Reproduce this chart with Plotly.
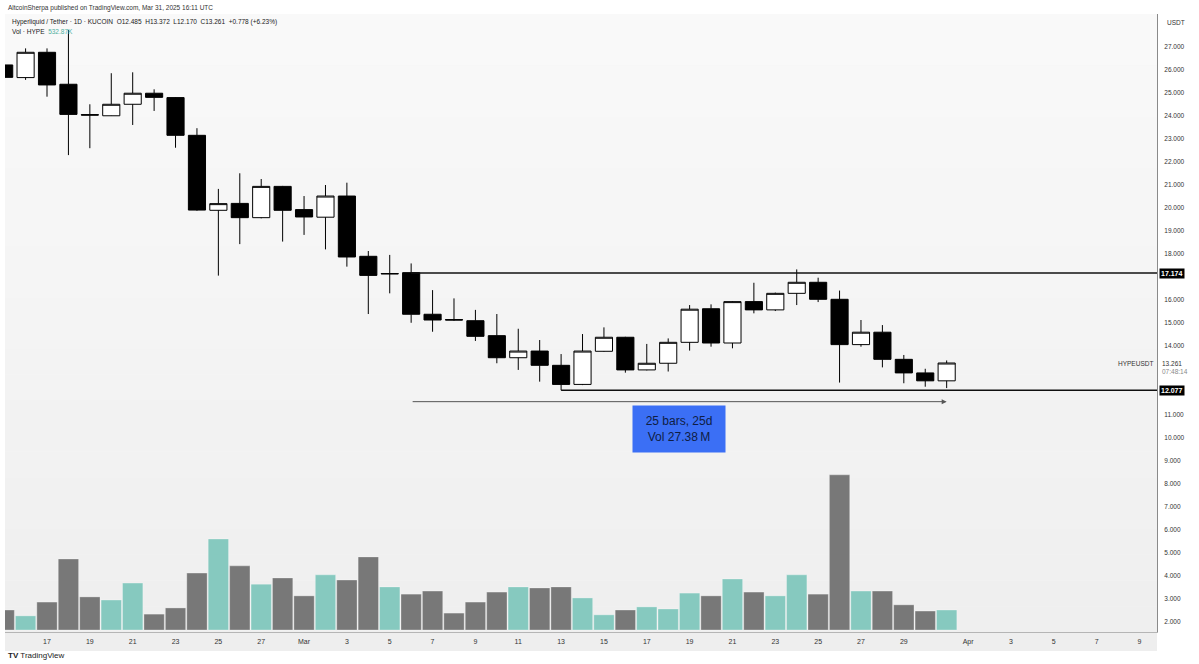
import plotly.graph_objects as go
import pandas as pd

# ---------------- data ----------------
dates = pd.date_range("2025-02-15", "2025-03-31", freq="D").strftime("%Y-%m-%d").tolist()

opens = [26.22, 25.67, 26.77, 25.38, 24.06, 24.01, 24.51, 24.99, 24.80, 23.16,
         19.90, 20.20, 19.58, 20.94, 19.93, 19.60, 20.52, 17.90, 17.13, 17.19,
         15.38, 15.15, 15.10, 14.45, 13.49, 13.78, 13.16, 12.33, 13.77, 14.38,
         12.96, 13.25, 14.16, 15.62, 14.13, 15.93, 15.57, 16.29, 16.77, 16.03,
         14.06, 14.60, 13.42, 12.83, 12.485]
highs = [26.30, 26.94, 26.94, 27.74, 24.51, 25.86, 25.90, 25.16, 24.82, 23.47,
         20.83, 21.51, 21.26, 20.96, 20.52, 21.00, 21.10, 18.13, 17.96, 17.59,
         16.43, 16.07, 15.57, 15.39, 14.75, 14.26, 13.65, 14.52, 14.81, 14.40,
         14.09, 14.33, 15.78, 15.81, 15.95, 16.75, 16.32, 17.33, 16.97, 16.41,
         15.13, 14.91, 13.61, 13.01, 13.372]
lows = [25.60, 25.57, 24.84, 22.30, 22.60, 24.00, 23.61, 24.22, 22.62, 19.88,
        17.06, 18.43, 19.55, 18.54, 18.83, 18.20, 17.45, 15.39, 16.29, 15.01,
        14.62, 15.10, 14.22, 13.25, 12.96, 12.45, 12.077, 12.30, 13.75, 12.84,
        12.94, 12.89, 13.80, 13.97, 13.90, 15.42, 15.52, 15.78, 15.91, 12.41,
        13.97, 13.07, 12.38, 12.23, 12.170]
closes = [25.68, 26.77, 25.35, 24.07, 24.04, 24.51, 24.99, 24.81, 23.16, 19.91,
          20.19, 19.58, 20.94, 19.90, 19.61, 20.52, 17.87, 17.07, 17.15, 15.38,
          15.13, 15.13, 14.42, 13.49, 13.78, 13.16, 12.33, 13.78, 14.38, 12.96,
          13.25, 14.16, 15.60, 14.13, 15.93, 15.57, 16.29, 16.77, 16.03, 14.06,
          14.60, 13.42, 12.83, 12.485, 13.261]
volumes_m = [0.58, 0.41, 0.81, 2.06, 0.96, 0.87, 1.36, 0.46, 0.64, 1.65,
             2.64, 1.86, 1.33, 1.51, 0.99, 1.60, 1.45, 2.12, 1.25, 1.04,
             1.13, 0.49, 0.81, 1.10, 1.25, 1.22, 1.25, 0.93, 0.44, 0.58,
             0.67, 0.61, 1.07, 0.99, 1.48, 1.10, 0.99, 1.60, 1.04, 4.50,
             1.13, 1.13, 0.73, 0.55, 0.58]

tick_dates = ["2025-02-17", "2025-02-19", "2025-02-21", "2025-02-23", "2025-02-25",
              "2025-02-27", "2025-03-01", "2025-03-03", "2025-03-05", "2025-03-07",
              "2025-03-09", "2025-03-11", "2025-03-13", "2025-03-15", "2025-03-17",
              "2025-03-19", "2025-03-21", "2025-03-23", "2025-03-25", "2025-03-27",
              "2025-03-29", "2025-04-01", "2025-04-03", "2025-04-05", "2025-04-07",
              "2025-04-09"]
tick_text = ["17", "19", "21", "23", "25", "27", "Mar", "3", "5", "7", "9", "11",
             "13", "15", "17", "19", "21", "23", "25", "27", "29", "Apr", "3", "5",
             "7", "9"]
# ticks hidden behind the price label boxes (12, 13, 17) are left out
price_ticks = [2, 3, 4, 5, 6, 7, 8, 9, 10, 11, 14, 15, 16, 18, 19, 20, 21, 22,
               23, 24, 25, 26, 27]

resistance = 17.174
resistance_start = "2025-03-06"
support = 12.077
support_start = "2025-03-13"
measure_start = "2025-03-06"
measure_end = "2025-03-31"
measure_level = 11.58
last_price = 13.261

# ---------------- layout helpers ----------------
W, H = 1199, 664
ML, MR, MT, MB = 5, 42, 14, 32
PW, PH = W - ML - MR, H - MT - MB
X_RANGE = ["2025-02-15 00:56", "2025-04-09 19:40"]
Y_RANGE = [1.565, 28.435]
V_RANGE = [-0.058, 17.864]


def px(x):
    return (x - ML) / PW


def py(y):
    return (H - MB - y) / PH


FONT = "Liberation Sans"
TEAL = "#86c9bf"
GRAY = "#787878"

vol_colors = [TEAL if c >= o else GRAY for o, c in zip(opens, closes)]

fig = go.Figure()

fig.add_trace(go.Bar(
    x=dates, y=volumes_m, yaxis="y2",
    marker=dict(color=vol_colors, line=dict(width=0.6, color="rgba(255,255,255,0.5)")),
    hoverinfo="skip", showlegend=False,
))

fig.add_trace(go.Candlestick(
    x=dates, open=opens, high=highs, low=lows, close=closes,
    increasing=dict(fillcolor="#ffffff", line=dict(color="#000000", width=1)),
    decreasing=dict(fillcolor="#000000", line=dict(color="#000000", width=1)),
    whiskerwidth=0, showlegend=False, hoverinfo="skip",
))

# horizontal levels
fig.add_trace(go.Scatter(x=[resistance_start, X_RANGE[1]], y=[resistance, resistance],
                         mode="lines", line=dict(color="#111111", width=1.6),
                         hoverinfo="skip", showlegend=False, cliponaxis=False))
fig.add_trace(go.Scatter(x=[support_start, X_RANGE[1]], y=[support, support],
                         mode="lines", line=dict(color="#111111", width=1.6),
                         hoverinfo="skip", showlegend=False, cliponaxis=False))

# background gradient bands
shapes = []
n = 24
for i in range(n):
    t = i / (n - 1)
    c = int(round(249 - 10 * t))
    shapes.append(dict(type="rect", xref="paper", yref="paper", x0=0, x1=1,
                       y0=1 - (i + 1) / n, y1=1 - i / n, layer="below",
                       line=dict(width=0), fillcolor=f"rgb({c},{c},{c})"))
# time-axis strip
shapes.append(dict(type="rect", xref="paper", yref="paper", x0=0, x1=1,
                   y0=py(651), y1=0, layer="below", line=dict(width=0),
                   fillcolor="#eeeeee"))

annotations = [
    # measurement arrow
    dict(x=measure_end, y=measure_level, ax=measure_start, ay=measure_level,
         xref="x", yref="y", axref="x", ayref="y", text="", showarrow=True,
         arrowhead=2, arrowsize=1, arrowwidth=1, arrowcolor="#555555"),
    # measurement box
    dict(x="2025-03-18 12:00", y=10.37, xref="x", yref="y", showarrow=False,
         text="25 bars, 25d<br>Vol 27.38\u2009M", align="center",
         font=dict(family=FONT, size=12, color="#0f1d44"),
         bgcolor="#3b6ff5", borderpad=8, width=76, height=30),
    # header
    dict(x=px(6), y=py(8), xref="paper", yref="paper", xanchor="left", yanchor="middle",
         showarrow=False, text="AltcoinSherpa published on TradingView.com, Mar 31, 2025 16:11 UTC",
         font=dict(family=FONT, size=6.5, color="#333333")),
    dict(x=px(10), y=py(22), xref="paper", yref="paper", xanchor="left", yanchor="middle",
         showarrow=False,
         text="Hyperliquid / Tether · 1D · KUCOIN  O12.485  H13.372  L12.170  C13.261  +0.778 (+6.23%)",
         font=dict(family=FONT, size=6.5, color="#222222")),
    dict(x=px(10), y=py(32), xref="paper", yref="paper", xanchor="left", yanchor="middle",
         showarrow=False,
         text="Vol · HYPE  <span style='color:#4fb0a0'>532.87K</span>",
         font=dict(family=FONT, size=6.5, color="#222222")),
    # footer
    dict(x=px(6), y=py(655), xref="paper", yref="paper", xanchor="left", yanchor="middle",
         showarrow=False, text="<b>TV</b> TradingView",
         font=dict(family=FONT, size=8, color="#222222")),
    # axis caption
    dict(x=px(1165), y=py(23), xref="paper", yref="paper", xanchor="left", yanchor="middle",
         showarrow=False, text="USDT", font=dict(family=FONT, size=6.5, color="#333333")),
    # price labels on axis
    dict(x=px(1159), y=resistance, xref="paper", yref="y", xanchor="left", yanchor="middle",
         showarrow=False, text="<b>17.174</b>", bgcolor="#000000", borderpad=1,
         font=dict(family=FONT, size=7, color="#ffffff")),
    dict(x=px(1159), y=support, xref="paper", yref="y", xanchor="left", yanchor="middle",
         showarrow=False, text="<b>12.077</b>", bgcolor="#000000", borderpad=1,
         font=dict(family=FONT, size=7, color="#ffffff")),
    dict(x=px(1160), y=last_price, xref="paper", yref="y", xanchor="left", yanchor="top",
         yshift=5, showarrow=False,
         text="13.261<br><span style='color:#888888'>07:48:14</span>", align="left",
         bgcolor="#ffffff", borderpad=1,
         font=dict(family=FONT, size=6.5, color="#333333")),
    dict(x=px(1155), y=last_price, xref="paper", yref="y", xanchor="right", yanchor="middle",
         showarrow=False, text="HYPEUSDT", font=dict(family=FONT, size=6.5, color="#333333")),
]

fig.update_layout(
    width=W, height=H,
    margin=dict(l=ML, r=MR, t=MT, b=MB, pad=0),
    paper_bgcolor="#ffffff", plot_bgcolor="#f5f5f5",
    font=dict(family=FONT, size=7, color="#333333"),
    boxgap=0.2, boxgroupgap=0, bargap=0.05,
    shapes=shapes, annotations=annotations,
    showlegend=False,
    xaxis=dict(type="date", range=X_RANGE, rangeslider=dict(visible=False),
               tickvals=tick_dates, ticktext=tick_text, showgrid=False, zeroline=False,
               showline=True, linecolor="#b5b5b5", linewidth=1, ticks="",
               ticklabelstandoff=3,
               tickfont=dict(family=FONT, size=7, color="#333333"), fixedrange=True),
    yaxis=dict(side="right", range=Y_RANGE, tickvals=price_ticks,
               ticktext=[f"{v:.3f}" for v in price_ticks], showgrid=False, zeroline=False,
               showline=True, linecolor="#8a8a8a", linewidth=1, ticks="outside",
               ticklen=5, tickcolor="rgba(0,0,0,0)",
               tickfont=dict(family=FONT, size=6.5, color="#333333")),
    yaxis2=dict(overlaying="y", range=V_RANGE, visible=False, showgrid=False),
)

fig.write_html(
    "out.html",
    config={"displayModeBar": False},
    post_script="document.body.style.margin='0';document.body.style.padding='0';"
                "document.body.style.overflow='hidden';",
)
